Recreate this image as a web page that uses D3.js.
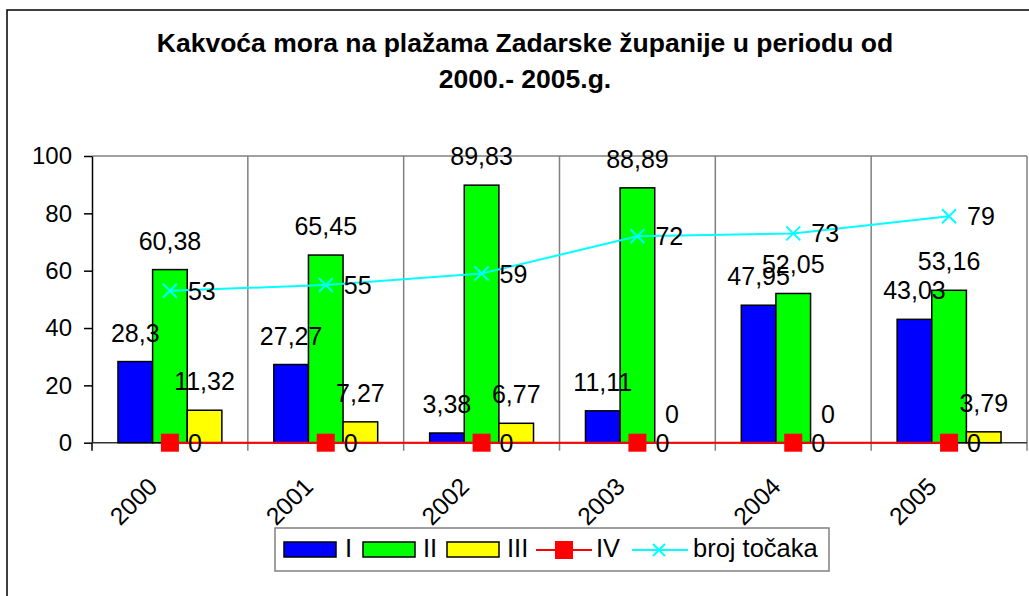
<!DOCTYPE html>
<html>
<head>
<meta charset="utf-8">
<script src="https://cdn.jsdelivr.net/npm/d3@7"></script>
<style>
  body { margin: 0; background: #fff; }
  text { font-family: "Liberation Sans", Arial, sans-serif; fill: #000; }
</style>
</head>
<body>
<div id="chart"></div>
<script>
// data
const years = ["2000", "2001", "2002", "2003", "2004", "2005"];
const valI = [28.3, 27.27, 3.38, 11.11, 47.95, 43.03];
const valII = [60.38, 65.45, 89.83, 88.89, 52.05, 53.16];
const valIII = [11.32, 7.27, 6.77, 0, 0, 3.79];
const valIV = [0, 0, 0, 0, 0, 0];
const brojTocaka = [53, 55, 59, 72, 73, 79];
const yTicks = [0, 20, 40, 60, 80, 100];

const barSeries = [
  {name: "I", values: valI, color: "#0000ff"},
  {name: "II", values: valII, color: "#00ff00"},
  {name: "III", values: valIII, color: "#ffff00"}
];

const W = 1029, H = 596;
const plotLeft = 92, plotRight = 1027, plotTop = 156, zeroY = 442.7;
const fmt = v => String(v).replace(".", ",");

const svg = d3.select("#chart").append("svg")
  .attr("width", W).attr("height", H);

// outer chart border
svg.append("rect")
  .attr("x", 7).attr("y", 10).attr("width", 1040).attr("height", 620)
  .attr("fill", "none").attr("stroke", "#000").attr("stroke-width", 1.5);

// title
svg.append("text")
  .attr("x", 525).attr("y", 52)
  .attr("text-anchor", "middle")
  .style("font-size", "26.5px").style("font-weight", "bold")
  .text("Kakvoća mora na plažama Zadarske županije u periodu od");
svg.append("text")
  .attr("x", 525).attr("y", 88)
  .attr("text-anchor", "middle")
  .style("font-size", "26.5px").style("font-weight", "bold")
  .text("2000.- 2005.g.");

// scales
const x = d3.scaleBand().domain(years).range([plotLeft, plotRight]).padding(0);
const bw = x.bandwidth();
const barW = bw / 4.5; // gap width 150%
const xSub = d3.scaleBand().domain(barSeries.map(s => s.name))
  .range([barW * 0.75, barW * 3.75]).padding(0);
const y = d3.scaleLinear().domain([0, 100]).range([zeroY, plotTop]);

// plot frame: top gridline and right edge
svg.append("line")
  .attr("x1", plotLeft).attr("x2", plotRight).attr("y1", y(100)).attr("y2", y(100))
  .attr("stroke", "#808080").attr("stroke-width", 1.5);
svg.append("line")
  .attr("x1", plotRight).attr("x2", plotRight).attr("y1", y(100)).attr("y2", zeroY + 8)
  .attr("stroke", "#808080").attr("stroke-width", 1.5);

// vertical gridlines between categories
svg.append("g").selectAll("line")
  .data(years.slice(1))
  .join("line")
    .attr("x1", d => x(d)).attr("x2", d => x(d))
    .attr("y1", y(100)).attr("y2", zeroY + 8)
    .attr("stroke", "#808080").attr("stroke-width", 1.5);

// y axis
const yAxis = svg.append("g")
  .attr("transform", "translate(" + plotLeft + ",0)")
  .call(d3.axisLeft(y).tickValues(yTicks).tickSize(8).tickSizeOuter(0).tickPadding(12));
yAxis.select(".domain").attr("stroke", "#000").attr("stroke-width", 1.5);
yAxis.selectAll(".tick line").attr("stroke", "#000").attr("stroke-width", 1.5);
yAxis.selectAll(".tick text").style("font-size", "24px")
  .style("font-family", "'Liberation Sans', Arial, sans-serif").attr("fill", "#000");
svg.append("line")
  .attr("x1", plotLeft).attr("x2", plotLeft).attr("y1", zeroY).attr("y2", zeroY + 8)
  .attr("stroke", "#000").attr("stroke-width", 1.5);

// x axis line
svg.append("line")
  .attr("x1", plotLeft).attr("x2", plotRight).attr("y1", zeroY).attr("y2", zeroY)
  .attr("stroke", "#333").attr("stroke-width", 1.5);

// x labels rotated
svg.append("g").selectAll("text")
  .data(years)
  .join("text")
    .attr("transform", d => "translate(" + (x(d) + bw / 2 - 11) + ",488) rotate(-45)")
    .attr("text-anchor", "end")
    .style("font-size", "24.5px")
    .text(d => d);

// bars
barSeries.forEach(s => {
  svg.append("g").selectAll("rect")
    .data(years)
    .join("rect")
      .attr("x", (d, i) => x(d) + xSub(s.name))
      .attr("y", (d, i) => y(s.values[i]))
      .attr("width", xSub.bandwidth())
      .attr("height", (d, i) => zeroY - y(s.values[i]))
      .attr("fill", s.color)
      .attr("stroke", "#000").attr("stroke-width", 1.5);
});

// lines
const cx = d => x(d) + bw / 2;
const seriesLine = d3.line().x((d, i) => cx(years[i])).y(d => y(d));
svg.append("path").datum(valIV)
  .attr("d", seriesLine).attr("fill", "none")
  .attr("stroke", "#ff0000").attr("stroke-width", 2);
svg.append("g").selectAll("rect")
  .data(years)
  .join("rect")
    .attr("x", d => cx(d) - 9).attr("y", (d, i) => y(valIV[i]) - 9)
    .attr("width", 18).attr("height", 18)
    .attr("fill", "#ff0000");

svg.append("path").datum(brojTocaka)
  .attr("d", seriesLine).attr("fill", "none")
  .attr("stroke", "#00ffff").attr("stroke-width", 2);
svg.append("g").selectAll("path")
  .data(years)
  .join("path")
    .attr("d", (d, i) => {
      const px = cx(d), py = y(brojTocaka[i]), r = 7;
      return "M" + (px - r) + "," + (py - r) + "L" + (px + r) + "," + (py + r) +
             "M" + (px - r) + "," + (py + r) + "L" + (px + r) + "," + (py - r);
    })
    .attr("stroke", "#00ffff").attr("stroke-width", 2);

// bar labels
barSeries.forEach(s => {
  svg.append("g").selectAll("text")
    .data(years)
    .join("text")
      .attr("x", d => x(d) + xSub(s.name) + xSub.bandwidth() / 2)
      .attr("y", (d, i) => y(s.values[i]) - 20)
      .attr("text-anchor", "middle")
      .style("font-size", "25px")
      .text((d, i) => fmt(s.values[i]));
});

// line labels
[valIV, brojTocaka].forEach(vals => {
  svg.append("g").selectAll("text")
    .data(years)
    .join("text")
      .attr("x", d => cx(d) + 18)
      .attr("y", (d, i) => y(vals[i]))
      .attr("dy", "0.36em")
      .style("font-size", "25px")
      .text((d, i) => fmt(vals[i]));
});

// legend
const lg = svg.append("g");
lg.append("rect")
  .attr("x", 275).attr("y", 528).attr("width", 554).attr("height", 43)
  .attr("fill", "#fff").attr("stroke", "#808080").attr("stroke-width", 1.5);

const legendBars = [
  {s: barSeries[0], x: 284, tx: 345},
  {s: barSeries[1], x: 363, tx: 423},
  {s: barSeries[2], x: 447, tx: 507}
];
legendBars.forEach(l => {
  lg.append("rect")
    .attr("x", l.x).attr("y", 542).attr("width", 52).attr("height", 15)
    .attr("fill", l.s.color).attr("stroke", "#000").attr("stroke-width", 1.5);
  lg.append("text").attr("x", l.tx).attr("y", 557)
    .style("font-size", "25.5px").text(l.s.name);
});

lg.append("line").attr("x1", 536).attr("x2", 592).attr("y1", 550).attr("y2", 550)
  .attr("stroke", "#ff0000").attr("stroke-width", 2);
lg.append("rect").attr("x", 555).attr("y", 541).attr("width", 18).attr("height", 18)
  .attr("fill", "#ff0000");
lg.append("text").attr("x", 596).attr("y", 557).style("font-size", "25.5px").text("IV");

lg.append("line").attr("x1", 632).attr("x2", 688).attr("y1", 550).attr("y2", 550)
  .attr("stroke", "#00ffff").attr("stroke-width", 2);
lg.append("path")
  .attr("d", "M653,544L665,556M653,556L665,544")
  .attr("stroke", "#00ffff").attr("stroke-width", 2);
lg.append("text").attr("x", 693).attr("y", 557).style("font-size", "25.5px").text("broj točaka");
</script>
</body>
</html>
